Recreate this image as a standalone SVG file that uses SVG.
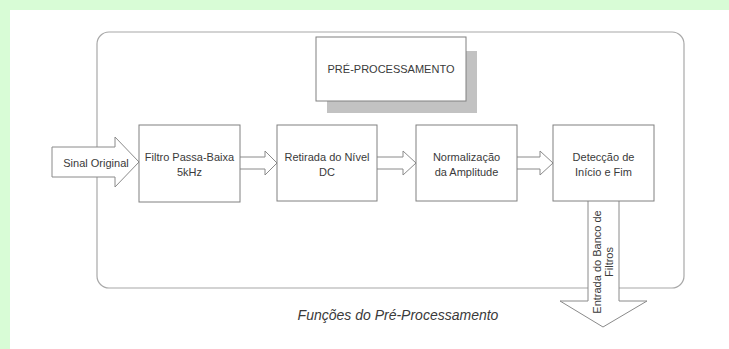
<svg xmlns="http://www.w3.org/2000/svg" width="729" height="349" viewBox="0 0 729 349">
<style>
.box{fill:#fff;stroke:#808080;stroke-width:1}
.arr{fill:#fff;stroke:#8a8a8a;stroke-width:1;stroke-linejoin:miter}
.t{font-family:"Liberation Sans",Arial,sans-serif;font-size:11px;fill:#3a3a3a;text-anchor:middle}
</style>
<rect x="0" y="0" width="729" height="349" fill="#d8fcd6"/>
<rect x="10" y="10" width="719" height="339" fill="#ffffff"/>
<rect x="97" y="32" width="587" height="256" rx="12" ry="12" fill="none" stroke="#a8a8a8" stroke-width="1.2"/>
<g id="title">
<rect x="327" y="51" width="150" height="62" fill="#c2c2c2"/>
<rect class="box" x="316" y="37" width="150" height="64"/>
<text class="t" x="391" y="73">PRÉ-PROCESSAMENTO</text>
</g>
<g id="connectors">
<path class="arr" d="M52 147 H115 V137 L139 162 L115 187 V177 H52 Z"/>
<path class="arr" d="M240 157 H265 V151 L277 163 L265 175 V169 H240"/>
<path class="arr" d="M377 157 H403 V151 L416 163 L403 175 V169 H377"/>
<path class="arr" d="M517 157 H540 V151 L553 163 L540 175 V169 H517"/>
<path class="arr" d="M588 201 V301 H560 L603 327 L647 301 H619 V201"/>
</g>
<g id="sinal"><text class="t" x="96" y="167">Sinal Original</text></g>
<g id="filtro">
<rect class="box" x="139" y="125" width="101" height="77"/>
<text class="t" x="189.5" y="161">Filtro Passa-Baixa</text>
<text class="t" x="189.5" y="176">5kHz</text>
</g>
<g id="retirada">
<rect class="box" x="277" y="125" width="100" height="76"/>
<text class="t" x="327" y="161">Retirada do Nível</text>
<text class="t" x="327" y="176">DC</text>
</g>
<g id="normalizacao">
<rect class="box" x="416" y="125" width="101" height="76"/>
<text class="t" x="466.5" y="161">Normalização</text>
<text class="t" x="466.5" y="176">da Amplitude</text>
</g>
<g id="deteccao">
<rect class="box" x="553" y="125" width="101" height="76"/>
<text class="t" x="603.5" y="161">Detecção de</text>
<text class="t" x="603.5" y="176">Início e Fim</text>
</g>
<g id="saida" transform="translate(603,262) rotate(-90)">
<text class="t" x="0" y="-2" font-size="10.5">Entrada do Banco de</text>
<text class="t" x="0" y="10" font-size="10.5">Filtros</text>
</g>
<text x="398" y="320" font-family="'Liberation Sans',Arial,sans-serif" font-size="14" font-style="italic" fill="#3a3a3a" text-anchor="middle">Funções do Pré-Processamento</text>
</svg>
